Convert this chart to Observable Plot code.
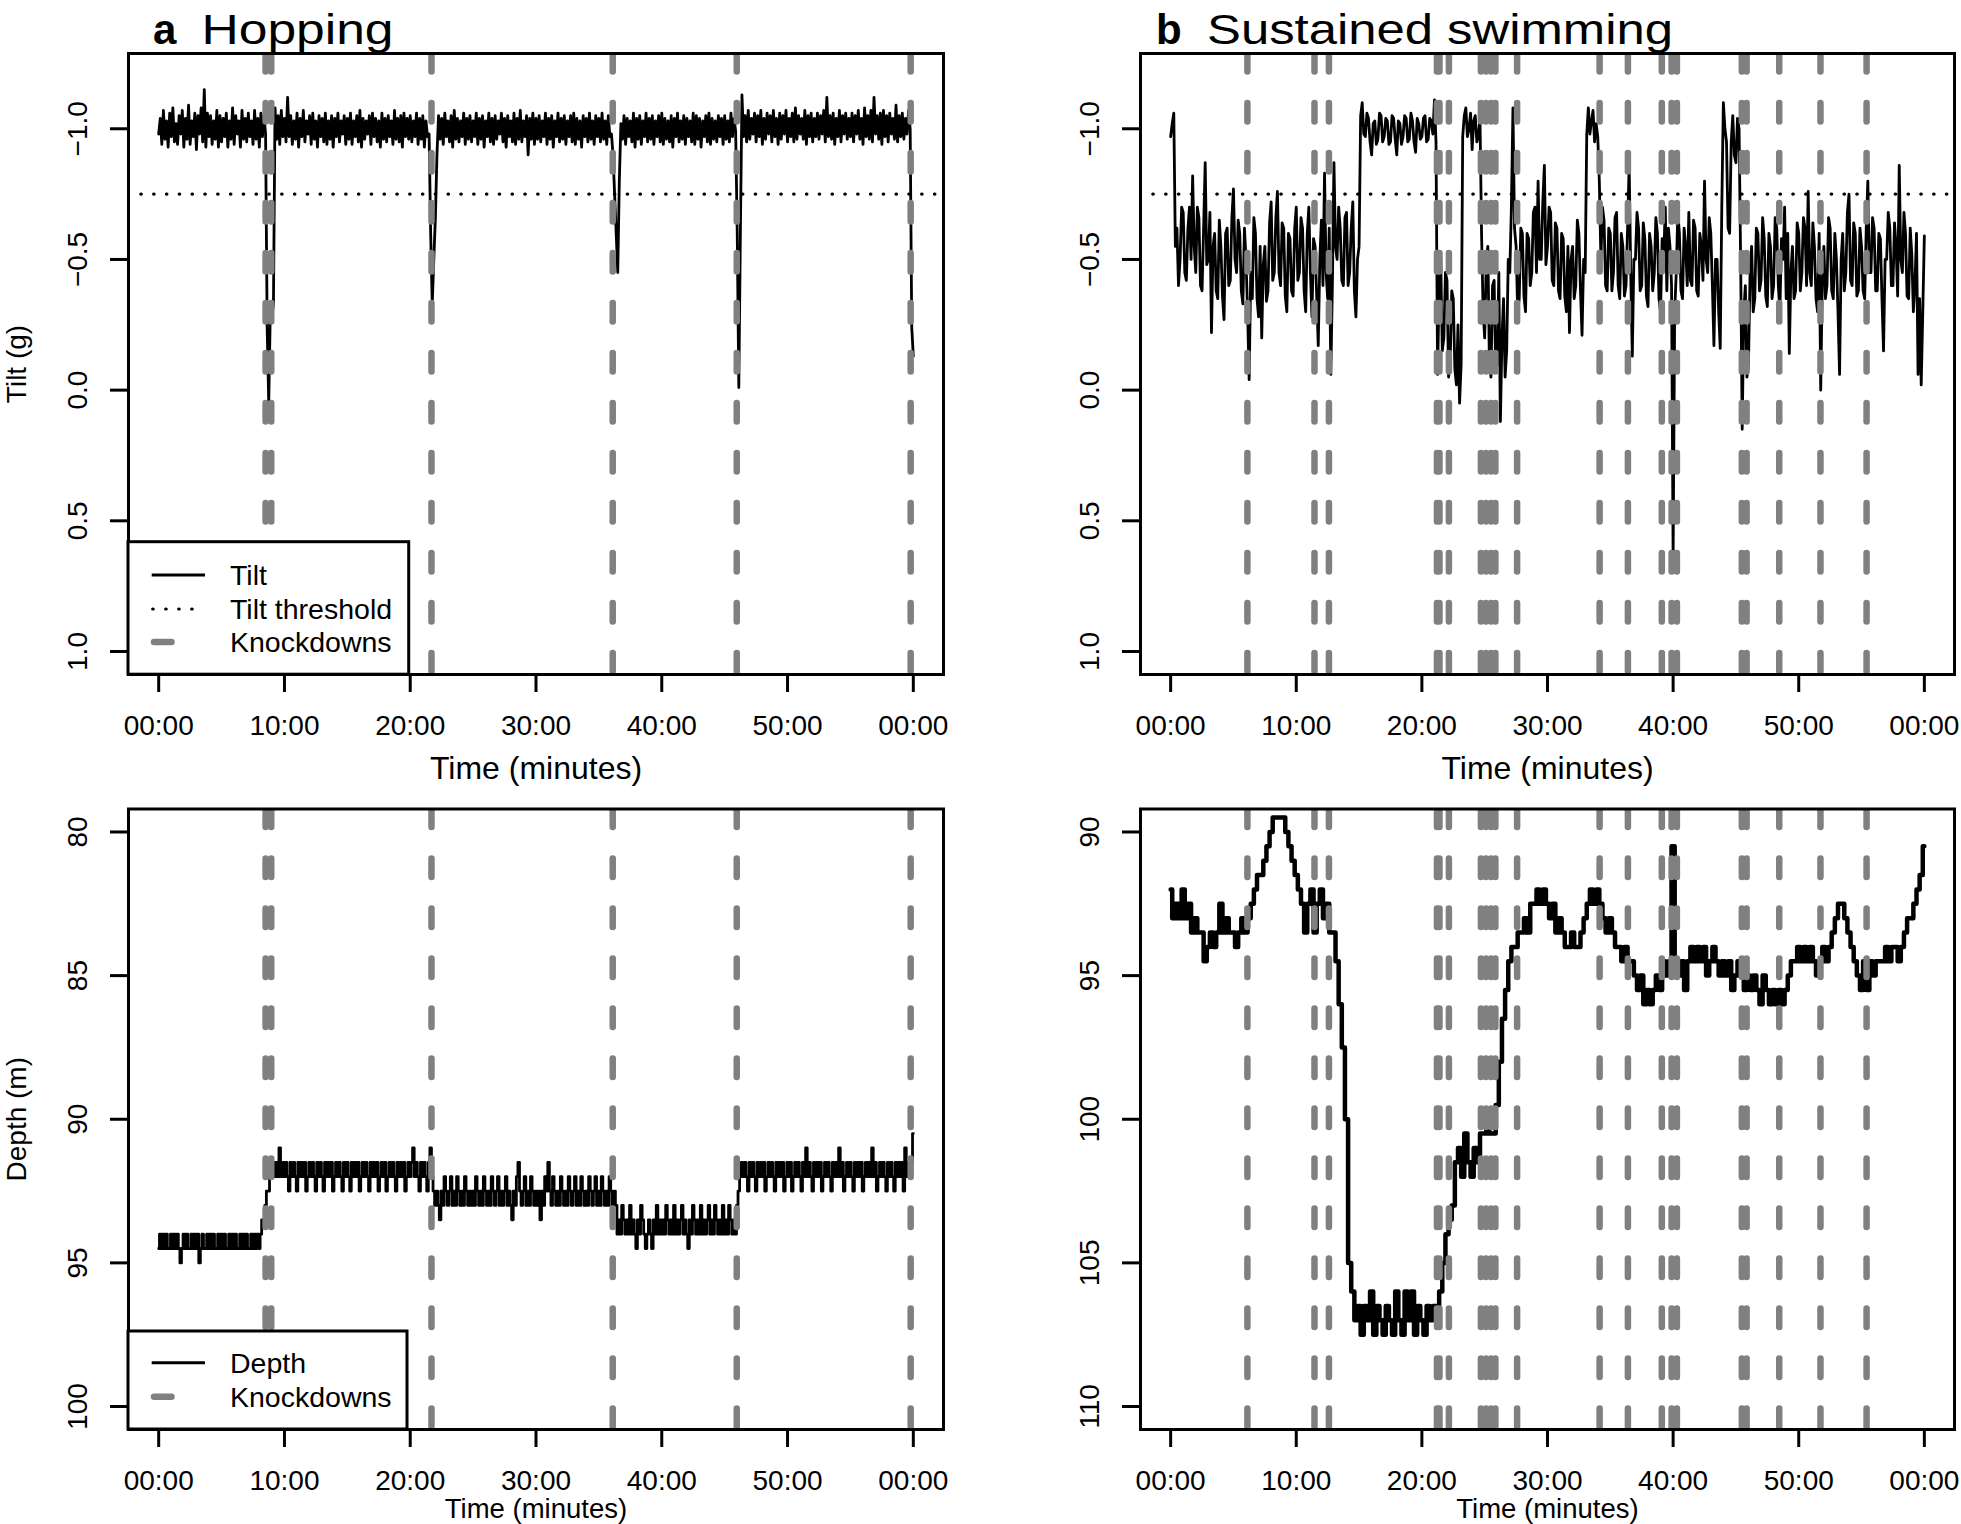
<!DOCTYPE html>
<html>
<head>
<meta charset="utf-8">
<script src="https://cdn.jsdelivr.net/npm/d3@7"></script>
<script src="https://cdn.jsdelivr.net/npm/@observablehq/plot@0.6"></script>
<style>
  html, body { margin: 0; padding: 0; background: #fff; }
  #root { position: relative; width: 1961px; height: 1524px; overflow: hidden; background: #fff; }
  .panel { position: absolute; }
  .panel svg { display: block; }
  #overlay { position: absolute; left: 0; top: 0; pointer-events: none; }
</style>
</head>
<body>
<div id="root"></div>
<script>
// ---------------- DATA ----------------
const fineStep = 0.125;  // minutes between samples (tilt series, hopping depth)
const coarseStep = 0.25; // minutes between samples (swimming depth)
const xTickValues = [0, 10, 20, 30, 40, 50, 60];
const xTickLabels = ["00:00", "10:00", "20:00", "30:00", "40:00", "50:00", "00:00"];
const tiltTickValues = [-1, -0.5, 0, 0.5, 1];
const tiltTickLabels = ["\u22121.0", "\u22120.5", "0.0", "0.5", "1.0"];
const depthHoppingTicks = [80, 85, 90, 95, 100];
const depthHoppingTickLabels = ["80", "85", "90", "95", "100"];
const depthSwimmingTicks = [90, 95, 100, 105, 110];
const depthSwimmingTickLabels = ["90", "95", "100", "105", "110"];
const tiltThreshold = -0.75;

const knockdownsHopping = [8.5, 8.95, 21.69, 36.1, 45.96, 59.79];
const knockdownsSwimming = [6.11, 11.45, 12.6, 21.2, 21.4, 22.15, 24.7, 25.1, 25.5, 25.85, 27.58,
  34.15, 36.4, 39.1, 39.88, 40.3, 45.47, 45.85, 48.45, 51.73, 55.4];

// tilt (g), hopping, every 0.125 min
const tiltHopping = [
  -0.98,-1.04,-0.94,-1.07,-0.96,-1.03,-0.93,-1.06,-0.97,-1.08,-0.95,-1.02,-0.94,-1.05,-0.98,-1.07,-0.93,-1.04,-0.96,-1.09,
  -0.94,-1.03,-0.97,-1.06,-0.92,-1.05,-0.98,-1.08,-0.95,-1.15,-0.93,-1.06,-0.97,-1.05,-0.94,-1.03,-0.96,-1.07,-0.93,-1.05,
  -0.95,-1.04,-0.97,-1.06,-0.93,-1.03,-0.96,-1.08,-0.94,-1.05,-0.98,-1.03,-0.93,-1.07,-0.96,-1.04,-0.95,-1.06,-0.97,-1.03,
  -0.94,-1.07,-0.96,-1.04,-0.93,-1.06,-0.97,-1.05,-0.98,-0.24,0.05,-0.3,-0.28,-0.33,-1.08,-0.96,-1.05,-0.94,-1.07,-0.97,
  -1.04,-0.95,-1.12,-0.97,-1.05,-0.94,-1.03,-0.96,-1.06,-0.93,-1.04,-0.97,-1.07,-0.95,-1.03,-0.98,-1.05,-0.94,-1.06,-0.96,
  -1.03,-0.93,-1.05,-0.97,-1.04,-0.95,-1.06,-0.94,-1.03,-0.96,-1.05,-0.93,-1.04,-0.97,-1.06,-0.95,-1.03,-0.98,-1.05,-0.94,
  -1.04,-0.96,-1.06,-0.94,-1.03,-0.97,-1.05,-0.95,-1.07,-0.93,-1.04,-0.96,-1.03,-0.98,-1.05,-0.94,-1.06,-0.97,-1.04,-0.95,
  -1.03,-0.93,-1.06,-0.96,-1.04,-0.95,-1.05,-0.97,-1.03,-0.94,-1.07,-0.96,-1.04,-0.95,-1.05,-0.93,-1.06,-0.97,-1.04,-0.96,
  -1.05,-0.95,-1.03,-0.97,-1.06,-0.94,-1.04,-0.96,-1.05,-0.93,-1.03,-0.97,-0.98,-0.6,-0.33,-0.5,-0.66,-0.9,-1.05,-0.96,
  -1.04,-0.94,-1.06,-0.97,-1.03,-0.95,-1.05,-0.93,-1.07,-0.96,-1.04,-0.95,-1.03,-0.97,-1.06,-0.94,-1.04,-0.96,-1.05,-0.95,
  -1.03,-0.97,-1.06,-0.94,-1.04,-0.96,-1.05,-0.93,-1.03,-0.97,-1.06,-0.95,-1.04,-0.94,-1.05,-0.96,-1.03,-0.98,-1.06,-0.95,
  -1.04,-0.93,-1.05,-0.97,-1.03,-0.95,-1.06,-0.94,-1.04,-0.96,-1.07,-0.95,-1.03,-0.97,-1.05,-0.9,-1.04,-0.96,-1.06,-0.94,
  -1.04,-0.96,-1.05,-0.95,-1.03,-0.97,-1.06,-0.94,-1.04,-0.96,-1.05,-0.93,-1.03,-0.97,-1.06,-0.95,-1.04,-0.96,-1.05,-0.94,
  -1.03,-0.97,-1.05,-0.95,-1.06,-0.94,-1.04,-0.96,-1.03,-0.93,-1.05,-0.97,-1.04,-0.95,-1.06,-0.96,-1.03,-0.94,-1.05,-0.97,
  -1.04,-0.95,-1.06,-0.96,-1.03,-0.94,-1.05,-0.97,-0.98,-0.9,-0.75,-0.6,-0.45,-0.8,-1.02,-0.96,-1.05,-0.94,-1.04,-0.97,
  -1.03,-0.95,-1.06,-0.93,-1.04,-0.96,-1.05,-0.94,-1.03,-0.97,-1.06,-0.95,-1.04,-0.96,-1.05,-0.94,-1.03,-0.97,-1.05,-0.95,
  -1.06,-0.94,-1.04,-0.96,-1.03,-0.95,-1.05,-0.93,-1.04,-0.97,-1.06,-0.95,-1.03,-0.96,-1.05,-0.94,-1.04,-0.97,-1.03,-0.95,
  -1.06,-0.94,-1.05,-0.96,-1.04,-0.93,-1.03,-0.97,-1.05,-0.95,-1.06,-0.94,-1.04,-0.96,-1.03,-0.95,-1.05,-0.97,-1.04,-0.94,
  -1.05,-0.96,-1.03,-0.95,-1.06,-0.97,-1.04,-0.99,-0.6,-0.01,-0.6,-1.13,-0.97,-1.05,-0.95,-1.07,-0.96,-1.04,-0.98,-1.06,
  -0.95,-1.05,-0.97,-1.07,-0.94,-1.04,-0.96,-1.06,-0.98,-1.05,-0.95,-1.07,-0.97,-1.04,-0.94,-1.06,-0.96,-1.05,-0.98,-1.07,
  -0.95,-1.04,-0.97,-1.06,-0.95,-1.08,-0.96,-1.05,-0.98,-1.04,-0.96,-1.07,-0.94,-1.05,-0.97,-1.06,-0.95,-1.04,-0.97,-1.06,
  -0.96,-1.05,-0.98,-1.07,-0.95,-1.12,-0.97,-1.05,-0.96,-1.06,-0.94,-1.04,-0.97,-1.07,-0.95,-1.05,-0.98,-1.06,-0.96,-1.04,
  -0.97,-1.06,-0.95,-1.05,-0.98,-1.07,-0.96,-1.04,-0.94,-1.08,-0.97,-1.05,-0.96,-1.07,-0.95,-1.12,-0.98,-1.05,-0.96,-1.06,
  -0.94,-1.07,-0.97,-1.05,-0.95,-1.06,-0.98,-1.04,-0.96,-1.09,-0.95,-1.05,-0.97,-1.06,-0.96,-1.04,-0.98,-1.07,-1.0,-0.24,
  -0.13
];

// tilt (g), sustained swimming, every 0.125 min
const tiltSwimming = [
  -0.97,-1.02,-1.06,-0.55,-0.62,-0.4,-0.5,-0.7,-0.68,-0.45,-0.42,-0.62,-0.7,-0.5,-0.82,-0.55,-0.45,-0.7,-0.66,-0.4,
  -0.38,-0.62,-0.87,-0.48,-0.5,-0.68,-0.22,-0.55,-0.6,-0.38,-0.35,-0.65,-0.55,-0.36,-0.27,-0.6,-0.62,-0.4,-0.42,-0.66,
  -0.77,-0.5,-0.45,-0.65,-0.6,-0.38,-0.33,-0.62,-0.5,-0.3,-0.04,-0.45,-0.35,-0.66,-0.6,-0.35,-0.28,-0.55,-0.2,-0.48,
  -0.55,-0.34,-0.38,-0.64,-0.72,-0.42,-0.45,-0.66,-0.76,-0.45,-0.4,-0.64,-0.62,-0.36,-0.3,-0.6,-0.58,-0.38,-0.36,-0.62,
  -0.7,-0.42,-0.45,-0.66,-0.62,-0.38,-0.3,-0.6,-0.7,-0.45,-0.28,-0.58,-0.55,-0.36,-0.17,-0.5,-0.65,-0.4,-0.83,-0.45,
  -0.35,-0.62,-0.06,-0.4,-0.87,-0.55,-0.5,-0.7,-0.62,-0.42,-0.4,-0.66,-0.68,-0.4,-0.45,-0.62,-0.72,-0.38,-0.28,-0.5,
  -0.55,-1.05,-1.1,-0.98,-0.97,-1.06,-1.04,-0.95,-0.9,-1.02,-1.03,-0.94,-0.96,-1.06,-1.05,-0.95,-0.97,-1.04,-1.03,-0.94,
  -0.95,-1.05,-1.04,-0.96,-0.9,-1.03,-1.02,-0.94,-0.97,-1.05,-1.04,-0.95,-0.96,-1.06,-1.03,-0.95,-0.91,-1.04,-1.02,-0.96,
  -0.97,-1.04,-1.05,-0.95,-0.96,-1.04,-1.03,-0.98,-1.11,-0.95,-0.06,-0.4,-0.5,-0.15,-0.2,-0.45,-0.42,-0.05,-0.1,-0.38,
  -0.35,-0.08,-0.02,-0.25,0.05,-0.1,-0.97,-1.05,-1.08,-0.97,-1.0,-1.06,-0.92,-1.03,-1.05,-0.95,-0.97,-1.04,-0.6,-0.3,
  -0.2,-0.5,-0.55,-0.1,-0.05,-0.4,-0.42,-0.08,-0.1,-0.45,0.12,-0.2,-0.35,-0.05,-0.15,-0.5,-0.45,-0.7,-1.08,-0.62,
  -0.55,-0.3,-0.35,-0.62,-0.6,-0.36,-0.3,-0.6,-0.58,-0.4,-0.45,-0.68,-0.7,-0.45,-0.8,-0.5,-0.5,-0.72,-0.86,-0.48,
  -0.55,-0.7,-0.68,-0.42,-0.4,-0.64,-0.62,-0.38,-0.35,-0.6,-0.58,-0.36,-0.3,-0.55,-0.22,-0.5,-0.55,-0.35,-0.4,-0.65,
  -0.6,-0.38,-0.21,-0.5,-0.45,-0.98,-1.08,-0.98,-1.03,-1.07,-0.95,-1.02,-0.97,-0.8,-0.5,-0.7,-0.65,-0.4,-0.38,-0.62,
  -0.6,-0.38,-0.45,-0.66,-0.68,-0.4,-0.35,-0.6,-0.55,-0.36,-0.4,-0.62,-0.86,-0.45,-0.13,-0.5,-0.5,-0.68,-0.62,-0.38,
  -0.4,-0.64,-0.58,-0.36,-0.32,-0.6,-0.55,-0.38,-0.45,-0.66,-0.6,-0.35,-0.3,-0.58,-0.5,-0.7,-0.38,-0.62,-0.55,-0.4,
  0.64,-0.3,-0.45,-0.68,-0.6,-0.38,-0.35,-0.62,-0.55,-0.4,-0.68,-0.42,-0.4,-0.65,-0.62,-0.38,-0.36,-0.6,-0.55,-0.42,
  -0.8,-0.5,-0.45,-0.66,-0.6,-0.4,-0.17,-0.5,-0.5,-0.3,-0.16,-0.7,-1.1,-1.0,-0.95,-0.62,-0.6,-0.95,-1.05,-0.9,
  -0.87,-1.04,-1.0,-0.5,0.15,-0.3,-0.4,-0.05,-0.1,-0.45,-0.55,-0.3,-0.35,-0.62,-0.6,-0.38,-0.42,-0.66,-0.58,-0.36,
  -0.32,-0.6,-0.55,-0.35,-0.4,-0.66,-0.62,-0.4,-0.3,-0.58,-0.5,-0.7,-0.35,-0.6,-0.14,-0.45,-0.55,-0.35,-0.38,-0.64,
  -0.6,-0.38,-0.45,-0.66,-0.62,-0.4,-0.76,-0.45,-0.4,-0.64,-0.55,-0.35,-0.3,-0.6,0.0,-0.42,-0.55,-0.35,-0.4,-0.66,
  -0.62,-0.38,-0.35,-0.6,-0.5,-0.3,-0.06,-0.5,-0.6,-0.38,-0.45,-0.68,-0.75,-0.42,-0.4,-0.64,-0.6,-0.36,-0.38,-0.62,
  -0.55,-0.38,-0.35,-0.62,-0.8,-0.45,-0.45,-0.66,-0.62,-0.38,-0.38,-0.6,-0.58,-0.35,-0.15,-0.5,-0.5,-0.68,-0.62,-0.4,
  -0.4,-0.64,-0.55,-0.36,-0.86,-0.5,-0.45,-0.68,-0.6,-0.36,-0.35,-0.62,-0.52,-0.3,-0.4,-0.6,-0.06,-0.35,-0.02,-0.3,
  -0.59
];

// depth (m), hopping, every 0.125 min
const depthHopping = [
  94.5,94.0,94.5,94.0,94.5,94.0,94.5,94.5,94.0,94.5,94.0,94.5,94.0,94.5,95.0,94.5,94.0,94.5,94.0,94.5,
  94.5,94.0,94.5,94.0,94.5,94.0,95.0,94.5,94.0,94.5,94.5,94.0,94.5,94.0,94.5,94.0,94.5,94.5,94.0,94.5,
  94.0,94.5,94.0,94.5,94.5,94.0,94.5,94.0,94.5,94.0,94.5,94.5,94.0,94.5,94.0,94.5,94.0,94.5,94.5,94.0,
  94.5,94.0,94.5,94.0,94.5,94.0,93.5,93.5,93.0,92.5,92.5,92.0,92.0,91.5,92.0,91.5,92.0,91.0,92.0,91.5,
  92.0,91.5,92.0,92.5,91.5,92.0,91.5,92.0,92.5,91.5,92.0,91.5,92.0,91.5,92.5,92.0,91.5,92.0,91.5,92.0,
  92.5,91.5,92.0,91.5,92.0,92.5,91.5,92.0,91.5,92.0,91.5,92.5,92.0,91.5,92.0,91.5,92.0,92.5,91.5,92.0,
  91.5,92.0,92.5,91.5,92.0,91.5,92.0,91.5,92.5,92.0,91.5,92.0,91.5,92.0,92.5,91.5,92.0,91.5,92.0,91.5,
  92.5,92.0,91.5,92.0,91.5,92.5,92.0,91.5,92.0,91.5,92.0,92.5,91.5,92.0,91.5,92.0,91.5,92.5,92.0,91.5,
  92.0,91.5,91.0,92.0,91.5,92.0,92.5,91.5,92.0,91.5,92.0,92.5,91.5,91.0,92.0,92.5,93.0,92.5,93.0,93.5,
  92.5,93.0,92.0,92.5,93.0,92.5,92.0,93.0,92.5,93.0,92.0,92.5,93.0,92.5,93.0,92.0,92.5,93.0,92.5,93.0,
  92.5,93.0,92.0,92.5,93.0,92.5,93.0,92.0,92.5,93.0,92.5,93.0,92.0,92.5,93.0,92.5,92.0,93.0,92.5,93.0,
  92.5,92.0,93.0,92.5,93.0,93.5,92.5,93.0,92.0,91.5,92.5,93.0,92.5,92.0,93.0,92.5,93.0,92.0,92.5,93.0,
  92.5,93.0,92.5,93.5,92.5,93.0,92.0,92.5,91.5,92.5,93.0,92.0,92.5,93.0,92.5,93.0,92.0,92.5,93.0,92.5,
  93.0,92.0,92.5,93.0,92.5,92.0,93.0,92.5,93.0,92.0,92.5,93.0,92.5,93.0,92.0,92.5,93.0,92.5,92.0,93.0,
  92.5,93.0,92.0,92.5,93.0,92.5,93.0,92.0,92.5,93.0,92.5,93.0,94.0,93.5,94.0,93.0,93.5,94.0,93.5,94.0,
  93.0,94.0,93.5,94.0,94.5,93.5,94.0,93.0,93.5,94.0,94.5,94.0,93.5,94.0,94.5,93.5,94.0,93.0,94.0,93.5,
  94.0,93.5,94.0,93.0,93.5,94.0,93.5,94.0,93.0,94.0,93.5,94.0,93.5,93.0,94.0,93.5,94.0,94.5,93.5,94.0,
  93.0,93.5,94.0,93.5,94.0,93.0,94.0,93.5,94.0,93.5,93.0,94.0,93.5,94.0,93.0,93.5,94.0,93.5,94.0,93.0,
  94.0,93.5,94.0,93.0,93.5,94.0,93.5,94.0,93.0,92.5,92.0,91.5,92.0,91.5,92.0,92.5,91.5,92.0,91.5,92.0,
  92.5,91.5,92.0,91.5,92.0,91.5,92.5,92.0,91.5,92.0,91.5,92.0,92.5,91.5,92.0,91.5,92.0,91.5,92.5,92.0,
  91.5,92.0,91.5,92.5,92.0,91.5,92.0,91.5,92.0,92.5,91.5,92.0,91.0,92.0,91.5,92.0,92.5,91.5,92.0,91.5,
  92.0,91.5,92.5,92.0,91.5,92.0,91.5,92.0,92.5,91.5,92.0,91.5,92.0,91.0,92.0,91.5,92.5,92.0,91.5,92.0,
  91.5,92.0,92.5,91.5,92.0,91.5,92.0,91.5,92.5,92.0,91.5,92.0,91.5,92.0,91.0,92.0,91.5,92.5,92.0,91.5,
  92.0,91.5,92.0,92.5,91.5,92.0,91.5,92.0,92.5,91.5,92.0,91.5,92.0,91.5,92.5,91.0,92.0,91.5,92.0,91.5,
  90.5
];

// depth (m), sustained swimming, every 0.25 min
const depthSwimming = [
  92.0,93.0,92.5,93.0,92.0,93.0,92.5,93.5,93.0,93.5,93.5,94.5,94.0,93.5,94.0,93.5,92.5,93.5,93.0,93.5,
  93.5,94.0,93.5,93.0,93.5,93.0,92.5,92.0,91.5,91.5,91.0,90.5,90.0,89.5,89.5,89.5,89.5,90.0,90.5,91.0,
  91.5,92.0,92.5,93.5,92.5,92.0,93.5,92.5,92.0,93.0,92.5,93.5,93.5,94.5,96.0,97.5,100.0,105.0,106.0,107.0,
  106.5,107.5,106.5,107.0,106.0,107.5,106.5,107.0,107.5,106.5,107.0,107.5,106.0,107.0,107.5,106.0,107.0,106.0,107.5,106.5,
  107.0,107.5,106.5,107.0,106.5,106.5,106.0,105.0,104.0,103.5,103.0,101.5,101.0,102.0,100.5,101.5,102.0,101.0,101.5,100.5,
  100.5,100.0,100.5,100.5,99.5,98.0,96.5,95.5,94.5,94.0,94.0,93.5,93.5,93.0,93.5,92.5,92.5,92.0,92.5,92.0,
  92.5,93.0,92.5,93.5,93.0,93.5,94.0,94.0,93.5,94.0,94.0,93.5,93.0,92.5,92.0,92.5,92.0,92.5,93.0,93.5,
  93.0,93.5,94.0,94.0,94.5,94.0,94.5,94.5,95.0,95.5,95.0,96.0,95.5,96.0,95.5,95.0,95.5,94.5,95.0,94.5,
  90.5,94.5,95.0,94.5,95.5,94.5,94.0,94.5,94.0,94.5,94.0,95.0,94.5,94.0,94.5,95.0,94.5,95.0,94.5,95.5,
  95.0,94.5,95.0,95.5,95.0,95.5,95.0,95.5,96.0,95.0,95.5,96.0,95.5,96.0,95.5,96.0,95.5,95.0,94.5,94.5,
  94.0,94.5,94.0,94.5,94.0,94.5,95.0,94.5,94.0,94.5,94.0,93.5,93.0,92.5,92.5,93.0,93.5,94.0,94.5,95.0,
  95.5,94.5,95.5,94.5,95.0,94.5,94.5,94.5,94.0,94.5,94.0,94.0,94.5,94.0,93.5,93.0,93.0,92.5,92.0,91.5,
  90.5
];

// ---------------- DRAWING ----------------
const FONT = '"Liberation Sans", Arial, Helvetica, sans-serif';
const KNOCK_COLOR = "#808080";
const root = document.getElementById("root");

function makePanel(cfg) {
  const data = cfg.values.map((v, i) => ({minute: i * cfg.step, value: v}));
  const marks = [
    Plot.line(data, {x: "minute", y: "value", stroke: "#000", strokeWidth: cfg.lineWidth,
      strokeLinejoin: "round", curve: cfg.curve, clip: true})
  ];
  if (cfg.threshold != null) {
    marks.push(Plot.ruleY([cfg.threshold], {y: d => d, stroke: "#000", strokeWidth: 3.2,
      strokeDasharray: "0.5,12.3", strokeLinecap: "round", clip: true}));
  }
  marks.push(Plot.ruleX(cfg.knockdowns, {x: d => d, stroke: KNOCK_COLOR, strokeWidth: 6.5,
    strokeDasharray: "18.5,31.5", strokeLinecap: "round", clip: true}));
  marks.push(Plot.frame({stroke: "#000", strokeWidth: 3}));
  marks.push(Plot.axisX({ticks: xTickValues, tickFormat: d => xTickLabels[xTickValues.indexOf(d)],
    tickSize: 18, tickPadding: 23, fontSize: 28, strokeWidth: 3, label: null}));
  marks.push(Plot.axisY({ticks: cfg.yTicks, tickFormat: () => "", tickSize: 18, strokeWidth: 3, label: null}));
  marks.push(Plot.text(cfg.yTicks, {y: d => d, text: (d, i) => cfg.yTickLabels[i], frameAnchor: "left",
    dx: -50, rotate: -90, fontSize: 28, textAnchor: "middle", lineAnchor: "middle"}));
  marks.push(Plot.text([cfg.xTitle], {text: d => d, frameAnchor: "bottom", dy: cfg.xTitleDy,
    fontSize: cfg.xTitleSize, lineAnchor: "middle"}));
  if (cfg.yTitle) {
    marks.push(Plot.text([cfg.yTitle], {text: d => d, frameAnchor: "left", dx: -111, rotate: -90,
      fontSize: 28, textAnchor: "middle", lineAnchor: "middle"}));
  }
  const svg = Plot.plot({
    width: cfg.width, height: cfg.height,
    marginLeft: cfg.m[0], marginRight: cfg.m[1], marginTop: cfg.m[2], marginBottom: cfg.m[3],
    x: {domain: [-2.4, 62.4]},
    y: {domain: cfg.yDomain, reverse: true},
    style: {fontFamily: FONT, fontSize: "28px", background: "transparent", overflow: "visible", color: "#000"},
    marks
  });
  const div = document.createElement("div");
  div.className = "panel";
  div.style.left = cfg.left + "px";
  div.style.top = cfg.top + "px";
  div.appendChild(svg);
  root.appendChild(div);
}

makePanel({left: 0, top: 0, width: 980, height: 780, m: [128, 37, 53, 106],
  values: tiltHopping, step: fineStep, knockdowns: knockdownsHopping, threshold: tiltThreshold,
  yDomain: [-1.288, 1.088], yTicks: tiltTickValues, yTickLabels: tiltTickLabels,
  yTitle: "Tilt (g)", xTitle: "Time (minutes)", xTitleDy: 94, xTitleSize: 32,
  lineWidth: 2.8, curve: "linear"});

makePanel({left: 980, top: 0, width: 981, height: 780, m: [160, 7, 53, 106],
  values: tiltSwimming, step: fineStep, knockdowns: knockdownsSwimming, threshold: tiltThreshold,
  yDomain: [-1.288, 1.088], yTicks: tiltTickValues, yTickLabels: tiltTickLabels,
  yTitle: null, xTitle: "Time (minutes)", xTitleDy: 94, xTitleSize: 32,
  lineWidth: 2.8, curve: "linear"});

makePanel({left: 0, top: 780, width: 980, height: 744, m: [128, 37, 28.5, 95],
  values: depthHopping, step: fineStep, knockdowns: knockdownsHopping, threshold: null,
  yDomain: [79.2, 100.8], yTicks: depthHoppingTicks, yTickLabels: depthHoppingTickLabels,
  yTitle: "Depth (m)", xTitle: "Time (minutes)", xTitleDy: 79.5, xTitleSize: 27.5,
  lineWidth: 2.8, curve: "step"});

makePanel({left: 980, top: 780, width: 981, height: 744, m: [160, 7, 28.5, 95],
  values: depthSwimming, step: coarseStep, knockdowns: knockdownsSwimming, threshold: null,
  yDomain: [89.2, 110.8], yTicks: depthSwimmingTicks, yTickLabels: depthSwimmingTickLabels,
  yTitle: null, xTitle: "Time (minutes)", xTitleDy: 79.5, xTitleSize: 27.5,
  lineWidth: 4.5, curve: "step"});

// ---------------- TITLES AND LEGENDS (overlay) ----------------
const ov = d3.select(root).append("svg").attr("id", "overlay")
  .attr("width", 1961).attr("height", 1524)
  .style("font-family", FONT);

function title(xLetter, letter, xText, text, textLen) {
  ov.append("text").attr("x", xLetter).attr("y", 43.5).attr("font-size", 42)
    .attr("font-weight", "bold").attr("fill", "#000").text(letter);
  ov.append("text").attr("x", xText).attr("y", 43.5).attr("font-size", 42)
    .attr("textLength", textLen).attr("lengthAdjust", "spacingAndGlyphs")
    .attr("fill", "#000").text(text);
}
title(153, "a", 201.5, "Hopping", 192);
title(1156, "b", 1207, "Sustained swimming", 466);

function legend(x, y, w, h, rows) {
  const g = ov.append("g");
  g.append("rect").attr("x", x).attr("y", y).attr("width", w).attr("height", h)
    .attr("fill", "#fff").attr("stroke", "#000").attr("stroke-width", 3);
  rows.forEach(r => {
    if (r.kind === "solid") {
      g.append("line").attr("x1", 151.7).attr("x2", 205).attr("y1", r.y).attr("y2", r.y)
        .attr("stroke", "#000").attr("stroke-width", 3);
    } else if (r.kind === "dotted") {
      g.append("line").attr("x1", 152.7).attr("x2", 193).attr("y1", r.y).attr("y2", r.y)
        .attr("stroke", "#000").attr("stroke-width", 3.2).attr("stroke-dasharray", "0.5,12.5")
        .attr("stroke-linecap", "round");
    } else {
      g.append("line").attr("x1", 154).attr("x2", 171.5).attr("y1", r.y).attr("y2", r.y)
        .attr("stroke", KNOCK_COLOR).attr("stroke-width", 6.5).attr("stroke-linecap", "round");
    }
    g.append("text").attr("x", 230).attr("y", r.y + 10).attr("font-size", 28.5)
      .attr("fill", "#000").text(r.label);
  });
}
legend(128, 541.7, 280.7, 132.5, [
  {kind: "solid", y: 575, label: "Tilt"},
  {kind: "dotted", y: 609, label: "Tilt threshold"},
  {kind: "knock", y: 642, label: "Knockdowns"}
]);
legend(128, 1331, 279, 98, [
  {kind: "solid", y: 1362.7, label: "Depth"},
  {kind: "knock", y: 1396.7, label: "Knockdowns"}
]);
</script>
</body>
</html>
